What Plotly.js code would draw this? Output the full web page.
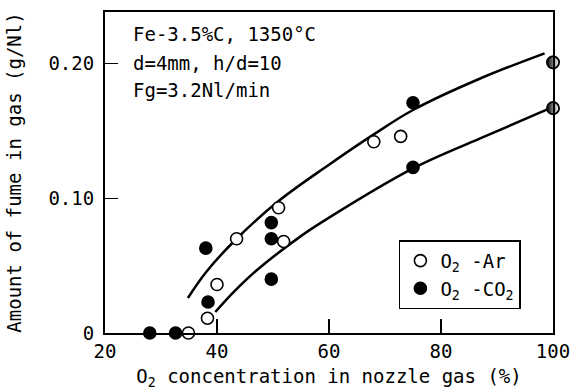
<!DOCTYPE html>
<html>
<head>
<meta charset="utf-8">
<script src="https://cdn.plot.ly/plotly-3.0.1.min.js"></script>
<style>html,body{margin:0;padding:0;background:#fff;}#chart{width:571px;height:390px;}</style>
</head>
<body>
<div id="chart"></div>
<script>
// O2-Ar (open circles)
var arX = [34.9, 38.3, 40.0, 43.5, 51.0, 51.9, 68.0, 72.8, 100, 100];
var arY = [0, 0.011, 0.036, 0.070, 0.093, 0.068, 0.142, 0.146, 0.201, 0.167];
// O2-CO2 (filled circles)
var co2X = [28.0, 32.6, 38.0, 38.4, 49.7, 49.7, 49.7, 75.0, 75.0, 100, 100];
var co2Y = [0, 0, 0.063, 0.023, 0.082, 0.070, 0.040, 0.171, 0.123, 0.201, 0.167];
// Upper fitted curve
var upperX = [34.8, 38.0, 43.5, 51.0, 60.0, 68.0, 75.0, 87.0, 98.5];
var upperY = [0.026, 0.045, 0.070, 0.098, 0.125, 0.1475, 0.1656, 0.189, 0.2077];
// Lower fitted curve
var lowerX = [39.7, 43.0, 47.1, 54.8, 59.3, 75.0, 87.0, 99.4];
var lowerY = [0.0156, 0.0305, 0.0466, 0.0714, 0.0838, 0.1222, 0.1445, 0.1668];
// Axis ticks
var xTicks = [20, 40, 60, 80, 100];
var xTickText = ['20', '40', '60', '80', '100'];
var yTicks = [0, 0.10, 0.20];
var yTickText = ['0', '0.10', '0.20'];
var notes = ['Fe-3.5%C, 1350°C', 'd=4mm, h/d=10', 'Fg=3.2Nl/min'];

var FONT = 'DejaVu Sans Mono, monospace';

// points where both series coincide are drawn half open / half filled
var co2Grad = co2X.map(function (x, i) {
  for (var j = 0; j < arX.length; j++) { if (arX[j] === x && arY[j] === co2Y[i]) return 'horizontal'; }
  return 'none';
});

var traces = [
  {x: upperX, y: upperY, mode: 'lines', line: {color: '#000', width: 2.5, shape: 'spline', smoothing: 1}, showlegend: false, hoverinfo: 'skip'},
  {x: lowerX, y: lowerY, mode: 'lines', line: {color: '#000', width: 2.5, shape: 'spline', smoothing: 1}, showlegend: false, hoverinfo: 'skip'},
  {x: arX, y: arY, mode: 'markers', name: 'O<sub>2</sub> -Ar', cliponaxis: false,
   marker: {symbol: 'circle', size: 12, color: '#fff', line: {color: '#000', width: 1.6}}},
  {x: co2X, y: co2Y, mode: 'markers', name: 'O<sub>2</sub> -CO<sub>2</sub>', cliponaxis: false,
   marker: {symbol: 'circle', size: 12, color: '#000', line: {color: '#000', width: 1.6},
            gradient: {type: co2Grad, color: '#fff'}}}
];

var noteY = [0.931, 0.8425, 0.757];
var annotations = notes.map(function (t, i) {
  return {text: t, xref: 'paper', yref: 'paper', x: 0.058, y: noteY[i], xanchor: 'left', yanchor: 'middle',
          showarrow: false, font: {family: FONT, size: 19, color: '#000'}};
});

var layout = {
  width: 571, height: 390,
  margin: {l: 105, r: 18, t: 12, b: 57, pad: 0},
  paper_bgcolor: '#fff', plot_bgcolor: '#fff',
  font: {family: FONT, size: 19, color: '#000'},
  showlegend: true,
  legend: {x: 0.656, y: 0.289, xanchor: 'left', yanchor: 'top', bgcolor: '#fff', bordercolor: '#000', borderwidth: 1.5,
           font: {family: FONT, size: 19, color: '#000'}, tracegroupgap: 0},
  xaxis: {range: [20, 100], tickvals: xTicks, ticktext: xTickText, ticks: 'inside', ticklen: 14, tickwidth: 1.5, tickcolor: '#000',
          showline: true, linecolor: '#000', linewidth: 2, mirror: true, showgrid: false, zeroline: false,
          title: {text: 'O<sub>2</sub> concentration in nozzle gas (%)', font: {family: FONT, size: 19, color: '#000'}, standoff: 10},
          tickfont: {family: FONT, size: 19, color: '#000'}},
  yaxis: {range: [0, 0.2384], tickvals: yTicks, ticktext: yTickText, ticks: 'inside', ticklen: 13, tickwidth: 1.5, tickcolor: '#000',
          showline: true, linecolor: '#000', linewidth: 2, mirror: true, showgrid: false, zeroline: false, ticklabelstandoff: 5,
          title: {text: 'Amount of fume in gas (g/Nl)', font: {family: FONT, size: 19, color: '#000'}, standoff: 22},
          tickfont: {family: FONT, size: 19, color: '#000'}},
  annotations: annotations
};

Plotly.newPlot('chart', traces, layout, {displayModeBar: false, staticPlot: true});
</script>
</body>
</html>
